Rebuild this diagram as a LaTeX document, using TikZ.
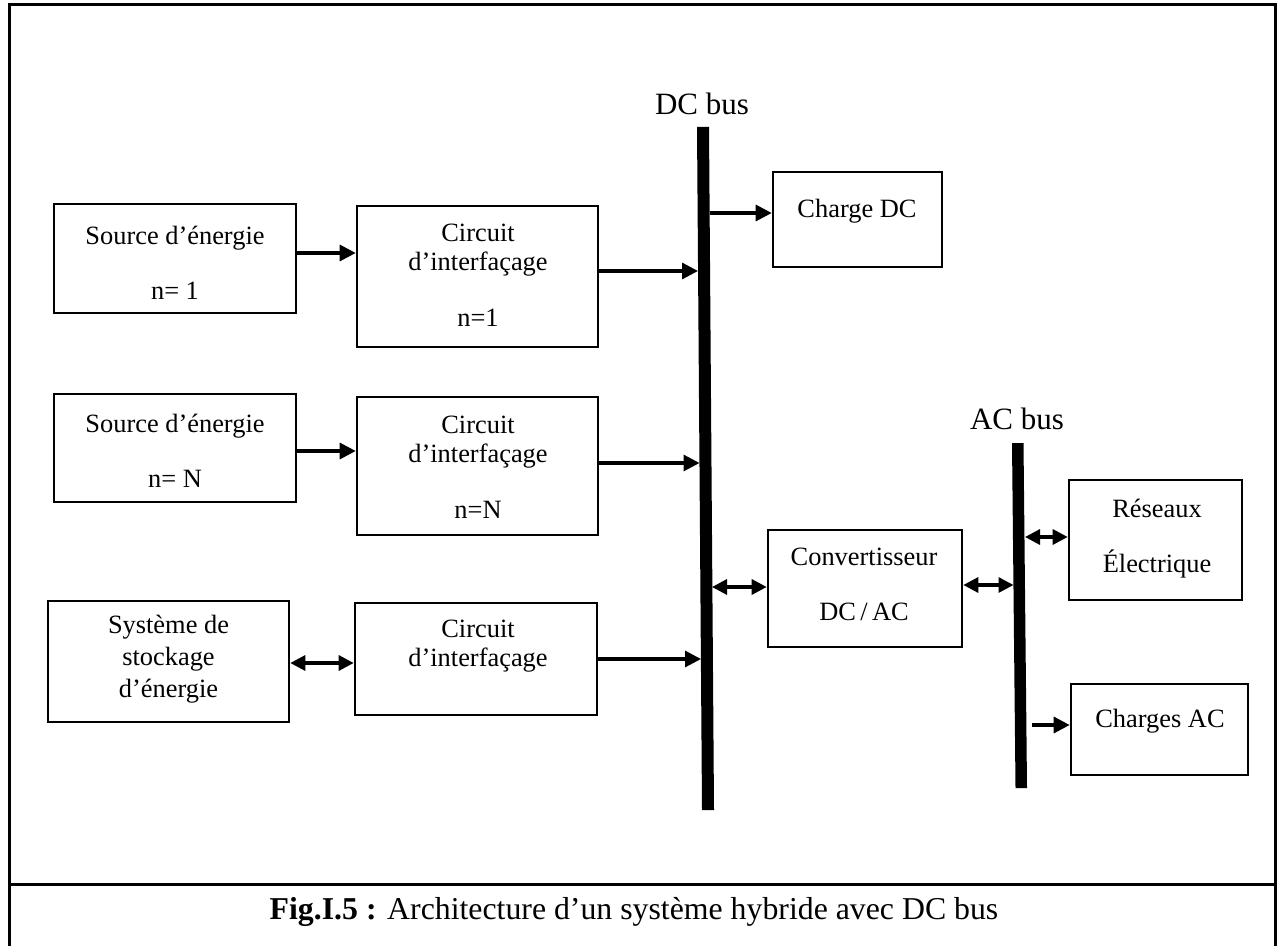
\documentclass[tikz,border=0pt]{standalone}
\usepackage{fontspec}
\setmainfont{Liberation Serif}
\usetikzlibrary{arrows.meta}
\begin{document}
\begin{tikzpicture}[x=0.5pt,y=-0.5pt,
  box/.style={draw,line width=1.3pt,rectangle,inner sep=0pt},
  txt/.style={inner sep=0pt,align=center,font=\fontsize{13.2}{14.5}\selectfont},
  flow/.style={line width=1.6pt,-{Triangle[length=8pt,width=8pt]}},
  biflow/.style={line width=1.6pt,{Triangle[length=7.5pt,width=7.5pt]}-{Triangle[length=7.5pt,width=7.5pt]}},
  busbar/.style={fill=black},
  buslabel/.style={inner sep=0pt,font=\fontsize{15.5}{18}\selectfont},
  frame/.style={line width=1.5pt}]
\useasboundingbox (0,0) rectangle (1283,946);

% outer frame and caption separator
\draw[frame] (9,946) -- (9,5) -- (1275.5,5) -- (1275.5,946);
\draw[frame] (9,884) -- (1275.5,884);

% buses
\fill[busbar] (697,127) -- (709,127) -- (714,810) -- (702,810) -- cycle;
\fill[busbar] (1012,443) -- (1023.5,443) -- (1027,788) -- (1015.5,788) -- cycle;
\node[buslabel] (dclabel) at (702,104) {DC bus};
\node[buslabel] (aclabel) at (1017,419) {AC bus};

% blocks
\node[box,minimum width=121pt,minimum height=54.5pt] (s1) at (175,258.5) {};
\node[box,minimum width=120.5pt,minimum height=70.5pt] (c1) at (477.5,276.5) {};
\node[box,minimum width=84.5pt,minimum height=47.5pt] (cdc) at (857.5,219.5) {};
\node[box,minimum width=121pt,minimum height=54pt] (sN) at (175,448) {};
\node[box,minimum width=120.5pt,minimum height=69pt] (cN) at (477.5,466) {};
\node[box,minimum width=120.5pt,minimum height=60.5pt] (sys) at (168.5,661.5) {};
\node[box,minimum width=121pt,minimum height=56pt] (c3) at (476,659) {};
\node[box,minimum width=97pt,minimum height=58.5pt] (conv) at (865,588.5) {};
\node[box,minimum width=86.5pt,minimum height=60pt] (res) at (1155.5,540) {};
\node[box,minimum width=88.5pt,minimum height=45.5pt] (cac) at (1159.5,729.5) {};

% block texts
\node[txt] (s1t) at (175,262.5) {Source d’énergie\\[13pt]n= 1};
\node[txt] (c1t) at (478,275.5) {Circuit\\d’interfaçage\\[13.5pt]n=1};
\node[txt] (cdct) at (857,211) {Charge DC};
\node[txt] (sNt) at (175,450.5) {Source d’énergie\\[13pt]n= N};
\node[txt] (cNt) at (478,467.5) {Circuit\\d’interfaçage\\[13.5pt]n=N};
\node[txt,font=\fontsize{13.2}{16}\selectfont] (syst) at (168.5,659) {Système de\\stockage\\d’énergie};
\node[txt] (c3t) at (478,646) {Circuit\\d’interfaçage};
\node[txt] (convt) at (864,584.5) {Convertisseur\\[13pt]DC\,/\,AC};
\node[txt] (rest) at (1157,538.5) {Réseaux\\[13pt]Électrique};
\node[txt] (cact) at (1160,721) {Charges AC};

% bus tap points
\coordinate (dc1) at (698,271);
\coordinate (dcload) at (709.6,213);
\coordinate (dcN) at (699.5,463);
\coordinate (dc3) at (701,659);
\coordinate (dcconv) at (712,587);
\coordinate (acconv) at (1013.5,585);
\coordinate (acres) at (1025,537);
\coordinate (acload) at (1032,725);

% connectors
\draw[flow] (s1.east |- 0,253) -- (c1.west |- 0,253);
\draw[flow] (c1.east |- dc1) -- (dc1);
\draw[flow] (dcload) -- (cdc.west |- dcload);
\draw[flow] (sN.east |- 0,451) -- (cN.west |- 0,451);
\draw[flow] (cN.east |- dcN) -- (dcN);
\draw[biflow] (sys.east |- 0,663) -- (c3.west |- 0,663);
\draw[flow] (c3.east |- dc3) -- (dc3);
\draw[biflow] (dcconv) -- (conv.west |- dcconv);
\draw[biflow] (conv.east |- acconv) -- (acconv);
\draw[biflow] (acres) -- (res.west |- acres);
\draw[flow] (acload) -- (cac.west |- acload);

% caption
\node[inner sep=0pt,font=\fontsize{15.9}{18}\selectfont] (caption) at (634,912)
  {\textbf{Fig.I.5 :} Architecture d’un système hybride avec DC bus};
\end{tikzpicture}
\end{document}
